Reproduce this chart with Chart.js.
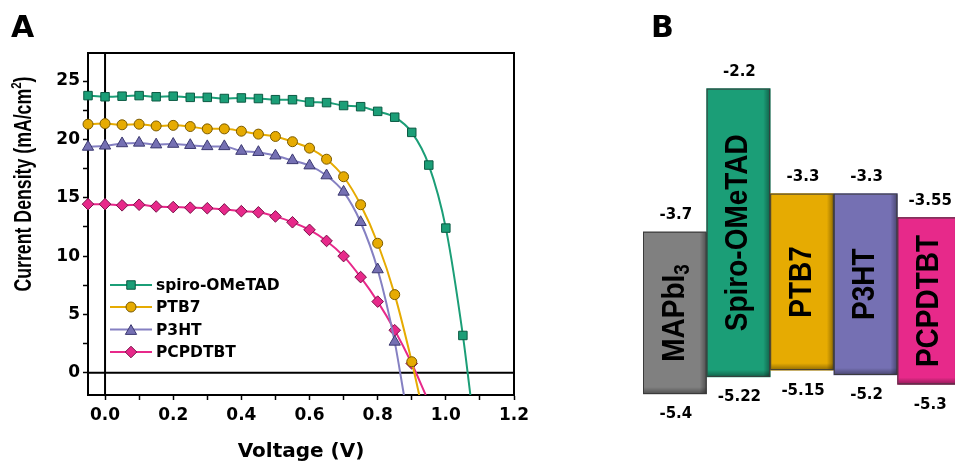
<!DOCTYPE html>
<html><head><meta charset="utf-8">
<script src="https://cdn.jsdelivr.net/npm/chart.js@4.4.1/dist/chart.umd.min.js"></script>
<style>
html,body{margin:0;padding:0;background:#fff;overflow:hidden;width:955px;height:466px;}
#wa{position:absolute;left:0;top:0;width:540px;height:466px;}
#wb{position:absolute;left:620px;top:0;width:345px;height:466px;}
canvas{display:block;}
</style></head><body>
<div id="wa"><canvas id="ca" width="540" height="466" style="width:540px;height:466px"></canvas></div>
<div id="wb"><canvas id="cb" width="345" height="466" style="width:345px;height:466px"></canvas></div>
<script>
// ---------- Panel A data ----------
const voltage = [-0.05,0,0.05,0.1,0.15,0.2,0.25,0.3,0.35,0.4,0.45,0.5,0.55,0.6,0.65,0.7,0.75,0.8,0.85,0.9,0.95,1.0,1.05];
const jSpiro   = [23.75,23.65,23.7,23.75,23.65,23.7,23.6,23.6,23.5,23.55,23.5,23.4,23.4,23.2,23.15,22.9,22.8,22.4,21.9,20.6,17.8,12.4,3.2];
const jPTB7    = [21.3,21.35,21.25,21.3,21.15,21.2,21.1,20.9,20.9,20.7,20.45,20.25,19.8,19.25,18.3,16.8,14.4,11.1,6.7,0.95];
const jP3HT    = [19.35,19.45,19.65,19.7,19.55,19.6,19.5,19.4,19.4,19.0,18.9,18.6,18.2,17.75,16.9,15.5,12.9,8.85,2.65];
const jPCPDTBT = [14.45,14.45,14.35,14.4,14.25,14.2,14.15,14.1,14.0,13.85,13.75,13.4,12.9,12.25,11.3,10.0,8.2,6.1,3.65,0.8];
// line continuation below the last marker (V, J)
const tailSpiro   = [1.072,-1.9];
const tailPTB7    = [0.922,-1.9];
const tailP3HT    = [0.877,-1.9];
const tailPCPDTBT = [0.941,-1.9];
const seriesNames = ['spiro-OMeTAD','PTB7','P3HT','PCPDTBT'];
const xTicks = [0,0.1,0.2,0.3,0.4,0.5,0.6,0.7,0.8,0.9,1.0,1.1,1.2];
const yTicks = [0,2.5,5,7.5,10,12.5,15,17.5,20,22.5,25];

// ---------- Panel B data ----------
const materials = ['MAPbI3','Spiro-OMeTAD','PTB7','P3HT','PCPDTBT'];
const lumo = [-3.7,-2.2,-3.3,-3.3,-3.55];
const homo = [-5.4,-5.22,-5.15,-5.2,-5.3];

// ---------- helpers ----------
function pts(j, tail){ const d = j.map((y,i)=>({x:voltage[i], y:y})); d.push({x:tail[0], y:tail[1]}); return d; }
function radii(j, r){ return j.map(()=>r).concat([0]); }
const styles = [
  {line:'#1b9e77', fill:'#1b9e77', edge:'#0b5a43', shape:'rect', r:6},
  {line:'#e6ab02', fill:'#e6ab02', edge:'#7a5a00', shape:'circle', r:5},
  {line:'#8580c2', fill:'#7570b3', edge:'#3b3870', shape:'triangle', r:6.5},
  {line:'#e7298a', fill:'#e7298a', edge:'#7a1048', shape:'rectRot', r:5.8}
];
const jAll = [jSpiro,jPTB7,jP3HT,jPCPDTBT];
const tails = [tailSpiro,tailPTB7,tailP3HT,tailPCPDTBT];

function drawMarker(ctx, shape, x, y, r, fill, edge){
  ctx.save();
  ctx.fillStyle = fill; ctx.strokeStyle = edge; ctx.lineWidth = 1;
  ctx.beginPath();
  if (shape==='rect'){ const s=Math.SQRT1_2*r; ctx.rect(x-s,y-s,2*s,2*s); }
  else if (shape==='circle'){ ctx.arc(x,y,r,0,Math.PI*2); }
  else if (shape==='triangle'){ for(let k=0;k<3;k++){ const ang=-Math.PI/2+k*2*Math.PI/3; const px=x+Math.cos(ang)*r, py=y+Math.sin(ang)*r+r*0.25; if(k===0)ctx.moveTo(px,py); else ctx.lineTo(px,py);} ctx.closePath(); }
  else { ctx.moveTo(x-r,y); ctx.lineTo(x,y-r); ctx.lineTo(x+r,y); ctx.lineTo(x,y+r); ctx.closePath(); }
  ctx.fill(); ctx.stroke();
  ctx.restore();
}

const DJ = 'DejaVu Sans';
const AR = '"Liberation Sans", Arial, sans-serif';

const plugA = {
  id:'plugA',
  beforeDatasetsDraw(chart){
    const {ctx, chartArea:a, scales:{x,y}} = chart;
    ctx.save();
    ctx.strokeStyle = '#000'; ctx.lineWidth = 2;
    const x0 = x.getPixelForValue(0), y0 = y.getPixelForValue(0);
    ctx.beginPath(); ctx.moveTo(x0,a.top); ctx.lineTo(x0,a.bottom); ctx.stroke();
    ctx.beginPath(); ctx.moveTo(a.left,y0); ctx.lineTo(a.right,y0); ctx.stroke();
    ctx.strokeRect(a.left,a.top,a.right-a.left,a.bottom-a.top);
    ctx.restore();
  },
  afterDraw(chart){
    const ctx = chart.ctx;
    ctx.save();
    // legend
    const ys = [285,307,329.5,352];
    chart.data.datasets.forEach((ds,i)=>{
      const st = styles[i];
      ctx.strokeStyle = st.line; ctx.lineWidth = 2;
      ctx.beginPath(); ctx.moveTo(110,ys[i]); ctx.lineTo(152,ys[i]); ctx.stroke();
      drawMarker(ctx, st.shape, 131, ys[i], st.r, st.fill, st.edge);
      ctx.fillStyle = '#000'; ctx.font = 'bold 15.5px "'+DJ+'"';
      ctx.textAlign = 'left'; ctx.textBaseline = 'middle';
      ctx.fillText(ds.label, 156, ys[i]+1);
    });
    // y-axis title with superscript
    ctx.translate(25, 184); ctx.rotate(-Math.PI/2); ctx.scale(0.77,1);
    ctx.fillStyle = '#000'; ctx.textBaseline = 'middle'; ctx.textAlign = 'left';
    const f1 = 'bold 23px '+AR, f2 = 'bold 15px '+AR;
    const p1 = 'Current Density (mA/cm', p2 = '2', p3 = ')';
    ctx.font = f1; const w1 = ctx.measureText(p1).width, w3 = ctx.measureText(p3).width;
    ctx.font = f2; const w2 = ctx.measureText(p2).width;
    let sx = -(w1+w2+w3)/2;
    ctx.font = f1; ctx.fillText(p1, sx, 0);
    ctx.font = f2; ctx.fillText(p2, sx+w1, -8);
    ctx.font = f1; ctx.fillText(p3, sx+w1+w2, 0);
    ctx.restore();
    ctx.save();
    ctx.fillStyle = '#000'; ctx.font = 'bold 30px "'+DJ+'"'; ctx.textAlign='left'; ctx.textBaseline='alphabetic';
    ctx.fillText('A', 11, 37);
    ctx.restore();
  }
};

new Chart(document.getElementById('ca'), {
  type:'line',
  data:{ datasets: seriesNames.map((n,i)=>({
    label:n, data:pts(jAll[i], tails[i]),
    borderColor:styles[i].line, backgroundColor:styles[i].fill,
    pointBackgroundColor:styles[i].fill, pointBorderColor:styles[i].edge, pointBorderWidth:1,
    pointStyle:styles[i].shape, pointRadius:radii(jAll[i], styles[i].r),
    borderWidth:2, cubicInterpolationMode:'monotone', fill:false,
    clip:{left:8, top:0, right:0, bottom:0}
  }))},
  options:{
    responsive:false, animation:false, events:[],
    layout:{padding:{top:53,left:0,right:26,bottom:0}},
    plugins:{legend:{display:false}, tooltip:{enabled:false}},
    scales:{
      x:{type:'linear', min:-0.05, max:1.2,
        afterBuildTicks:s=>{ s.ticks = xTicks.map(v=>({value:v})); },
        afterFit:s=>{ s.height = 71; },
        ticks:{autoSkip:false, maxRotation:0, padding:5, color:'#000',
          font:{family:DJ, weight:'bold', size:17},
          callback:v=> (Math.round(v*10)%2===0) ? Number(v).toFixed(1) : ''},
        grid:{display:true, drawOnChartArea:false, drawTicks:true, tickLength:5, tickWidth:1.5, tickColor:'#000'},
        border:{display:true, color:'#000', width:2},
        title:{display:true, text:'Voltage (V)', color:'#000', font:{family:DJ, weight:'bold', size:20}, padding:{top:0,bottom:2}}
      },
      y:{type:'linear', min:-1.9, max:27.4,
        afterBuildTicks:s=>{ s.ticks = yTicks.map(v=>({value:v})); },
        afterFit:s=>{ s.width = 88; },
        ticks:{autoSkip:false, padding:3, color:'#000',
          font:{family:DJ, weight:'bold', size:17},
          callback:v=> (Math.round(v*10)%50===0) ? String(v) : ''},
        grid:{display:true, drawOnChartArea:false, drawTicks:true, tickLength:5, tickWidth:1.5, tickColor:'#000'},
        border:{display:true, color:'#000', width:2}
      }
    }
  },
  plugins:[plugA]
});

// ---------- Panel B ----------
const barColors = ['#808080','#1b9e77','#e6ab02','#7570b3','#e7298a'];
const plugB = {
  id:'plugB',
  afterDatasetsDraw(chart){
    const ctx = chart.ctx;
    const meta = chart.getDatasetMeta(0);
    meta.data.forEach((bar,i)=>{
      const p = bar.getProps(['x','y','base','width'], true);
      const l = p.x - p.width/2, r = p.x + p.width/2, t = Math.min(p.y,p.base), b = Math.max(p.y,p.base);
      ctx.save();
      let g = ctx.createLinearGradient(r-7,0,r,0);
      g.addColorStop(0,'rgba(0,0,0,0)'); g.addColorStop(1,'rgba(0,0,0,0.38)');
      ctx.fillStyle = g; ctx.fillRect(r-7,t+1,7,b-t-1);
      g = ctx.createLinearGradient(0,b-7,0,b);
      g.addColorStop(0,'rgba(0,0,0,0)'); g.addColorStop(1,'rgba(0,0,0,0.38)');
      ctx.fillStyle = g; ctx.fillRect(l+1,b-7,r-l-1,7);
      ctx.strokeStyle = '#3a3a3a'; ctx.lineWidth = 1;
      ctx.strokeRect(l+0.5,t+0.5,r-l-1,b-t-1);
      ctx.restore();
      // value labels
      ctx.save();
      ctx.fillStyle = '#000'; ctx.font = 'bold 15px "'+DJ+'"';
      ctx.textAlign = 'center'; ctx.textBaseline = 'middle';
      ctx.fillText(String(lumo[i]), p.x+1, t-16.5);
      ctx.fillText(String(homo[i]), p.x+1, b+20.5);
      ctx.restore();
      // inner rotated label
      ctx.save();
      ctx.translate(p.x, (t+b)/2); ctx.rotate(-Math.PI/2); ctx.scale(1,1.15);
      ctx.fillStyle = '#000'; ctx.textBaseline = 'middle'; ctx.textAlign = 'left';
      const name = materials[i];
      const f1 = 'bold 28px '+AR, f2 = 'bold 19px '+AR;
      if (name === 'MAPbI3'){
        ctx.font = f1; const w1 = ctx.measureText('MAPbI').width;
        ctx.font = f2; const w2 = ctx.measureText('3').width;
        const sx = -(w1+w2)/2;
        ctx.font = f1; ctx.fillText('MAPbI', sx, 0);
        ctx.font = f2; ctx.fillText('3', sx+w1, 7);
      } else {
        ctx.font = f1; const w = ctx.measureText(name).width;
        ctx.fillText(name, -w/2, 0);
      }
      ctx.restore();
    });
  },
  afterDraw(chart){
    const ctx = chart.ctx;
    ctx.save();
    ctx.fillStyle = '#000'; ctx.font = 'bold 30px "'+DJ+'"'; ctx.textAlign='left'; ctx.textBaseline='alphabetic';
    ctx.fillText('B', 31, 37);
    ctx.restore();
  }
};

new Chart(document.getElementById('cb'), {
  type:'bar',
  data:{ labels: materials, datasets:[{
    data: materials.map((m,i)=>[homo[i], lumo[i]]),
    backgroundColor: barColors, borderWidth:0,
    barPercentage:1, categoryPercentage:1
  }]},
  options:{
    responsive:false, animation:false, events:[],
    layout:{padding:{left:23,right:4,top:0,bottom:0}},
    plugins:{legend:{display:false}, tooltip:{enabled:false}},
    scales:{
      x:{display:false},
      y:{display:false, min:-6.154, max:-1.272}
    }
  },
  plugins:[plugB]
});
</script>
</body></html>
